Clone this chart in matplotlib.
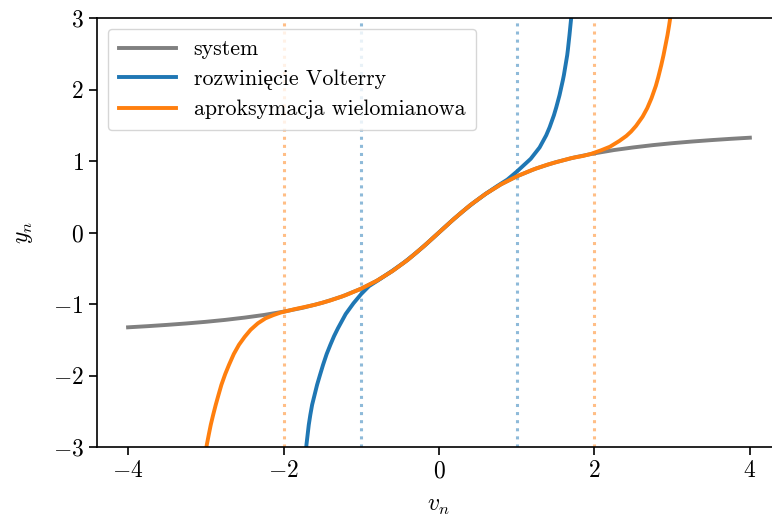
import matplotlib
matplotlib.use("Agg")
import matplotlib.pyplot as plt

plt.rcParams['font.family'] = ['cmr10', 'Liberation Serif', 'DejaVu Serif']
plt.rcParams['mathtext.fontset'] = 'cm'
plt.rcParams['axes.formatter.use_mathtext'] = True
plt.rcParams['axes.unicode_minus'] = True

# system response y = f(v)
v_sys = [-4.0, -3.75, -3.5, -3.25, -3.0, -2.75, -2.5, -2.25, -2.0, -1.75, -1.5, -1.25, -1.0,
         -0.8, -0.6, -0.4, -0.2, 0.0, 0.2, 0.4, 0.6, 0.8, 1.0, 1.25, 1.5, 1.75, 2.0,
         2.25, 2.5, 2.75, 3.0, 3.25, 3.5, 3.75, 4.0]
y_sys = [-1.326, -1.310, -1.292, -1.272, -1.249, -1.222, -1.190, -1.153, -1.107, -1.052, -0.983, -0.896, -0.785,
         -0.675, -0.540, -0.381, -0.197, 0.0, 0.197, 0.381, 0.540, 0.675, 0.785, 0.896, 0.983, 1.052, 1.107,
         1.153, 1.190, 1.222, 1.249, 1.272, 1.292, 1.310, 1.326]

# Volterra expansion
v_volt = [-1.72, -1.705, -1.69, -1.675, -1.655, -1.632, -1.60, -1.568, -1.53, -1.491, -1.445,
          -1.397, -1.35, -1.30, -1.2, -1.1, -1.0, -0.9,
          -0.75, -0.6, -0.45, -0.3, -0.15, 0.0, 0.15, 0.3, 0.45, 0.6, 0.75, 0.88, 1.0, 1.1,
          1.18, 1.252, 1.295, 1.38, 1.423, 1.479, 1.509, 1.551, 1.594, 1.607, 1.65, 1.658,
          1.679, 1.701, 1.715]
y_volt = [-3.2, -2.97, -2.83, -2.69, -2.55, -2.41, -2.27, -2.13, -1.99, -1.85, -1.70,
          -1.57, -1.45, -1.34, -1.14, -0.99, -0.86, -0.75,
          -0.645, -0.535, -0.42, -0.29, -0.149, 0.0, 0.149, 0.29, 0.42, 0.54, 0.65, 0.74, 0.85, 0.95,
          1.03, 1.13, 1.19, 1.36, 1.47, 1.64, 1.75, 1.92, 2.13, 2.20, 2.48, 2.55,
          2.76, 3.0, 3.2]

# polynomial approximation
v_poly = [-3.01, -2.987, -2.962, -2.936, -2.905, -2.872, -2.836, -2.799, -2.75, -2.701, -2.64,
          -2.573, -2.50, -2.423, -2.33, -2.231, -2.13, -2.038, -1.85,
          -1.6, -1.4, -1.2, -1.0, -0.8, -0.6, -0.4, -0.2, 0.0, 0.2, 0.4, 0.6, 0.8, 1.0, 1.2,
          1.4, 1.7, 1.85, 1.957, 2.086, 2.2, 2.32, 2.41, 2.47, 2.535, 2.62, 2.68, 2.735,
          2.79, 2.821, 2.86, 2.889, 2.92, 2.94, 2.96, 2.974, 3.0]
y_poly = [-3.12, -2.97, -2.83, -2.69, -2.55, -2.41, -2.27, -2.13, -1.98, -1.85, -1.70,
          -1.57, -1.46, -1.36, -1.27, -1.20, -1.155, -1.12, -1.07,
          -1.012, -0.951, -0.876, -0.785, -0.675, -0.540, -0.381, -0.197, 0.0, 0.197, 0.381, 0.540, 0.675, 0.785, 0.876,
          0.951, 1.04, 1.07, 1.10, 1.15, 1.20, 1.28, 1.35, 1.41, 1.49, 1.62, 1.74, 1.88,
          2.05, 2.17, 2.34, 2.48, 2.65, 2.76, 2.89, 2.99, 3.2]

volt_range = [-1, 1]
poly_range = [-2, 2]

blue = '#1f77b4'
orange = '#ff7f0e'

fig = plt.figure(figsize=(7.72, 5.19), dpi=100)
ax = fig.add_axes([0.1256, 0.1387, 0.886, 0.8266])

# validity ranges of both approximations
for x in volt_range:
    ax.axvline(x, color=blue, alpha=0.5, ls=':', lw=2.2)
for x in poly_range:
    ax.axvline(x, color=orange, alpha=0.5, ls=':', lw=2.2)

ax.plot(v_sys, y_sys, color='gray', lw=2.8, label='system')
ax.plot(v_volt, y_volt, color=blue, lw=2.8, label='rozwinięcie Volterry')
ax.plot(v_poly, y_poly, color=orange, lw=2.8, label='aproksymacja wielomianowa')

ax.set_xlim(-4.4, 4.4)
ax.set_ylim(-3, 3)
ax.set_xticks([-4, -2, 0, 2, 4])
ax.set_yticks([-3, -2, -1, 0, 1, 2, 3])
ax.tick_params(labelsize=17, length=6, width=1.2)
ax.set_xlabel('$v_n$', fontsize=17, labelpad=9)
ax.set_ylabel('$y_n$', fontsize=17, labelpad=13)
for s in ax.spines.values():
    s.set_linewidth(1.2)
ax.spines['right'].set_visible(False)

ax.legend(loc='upper left', fontsize=15.8, handlelength=2.6, borderpad=0.5, labelspacing=0.45)

fig.savefig('out.png', dpi=100)
